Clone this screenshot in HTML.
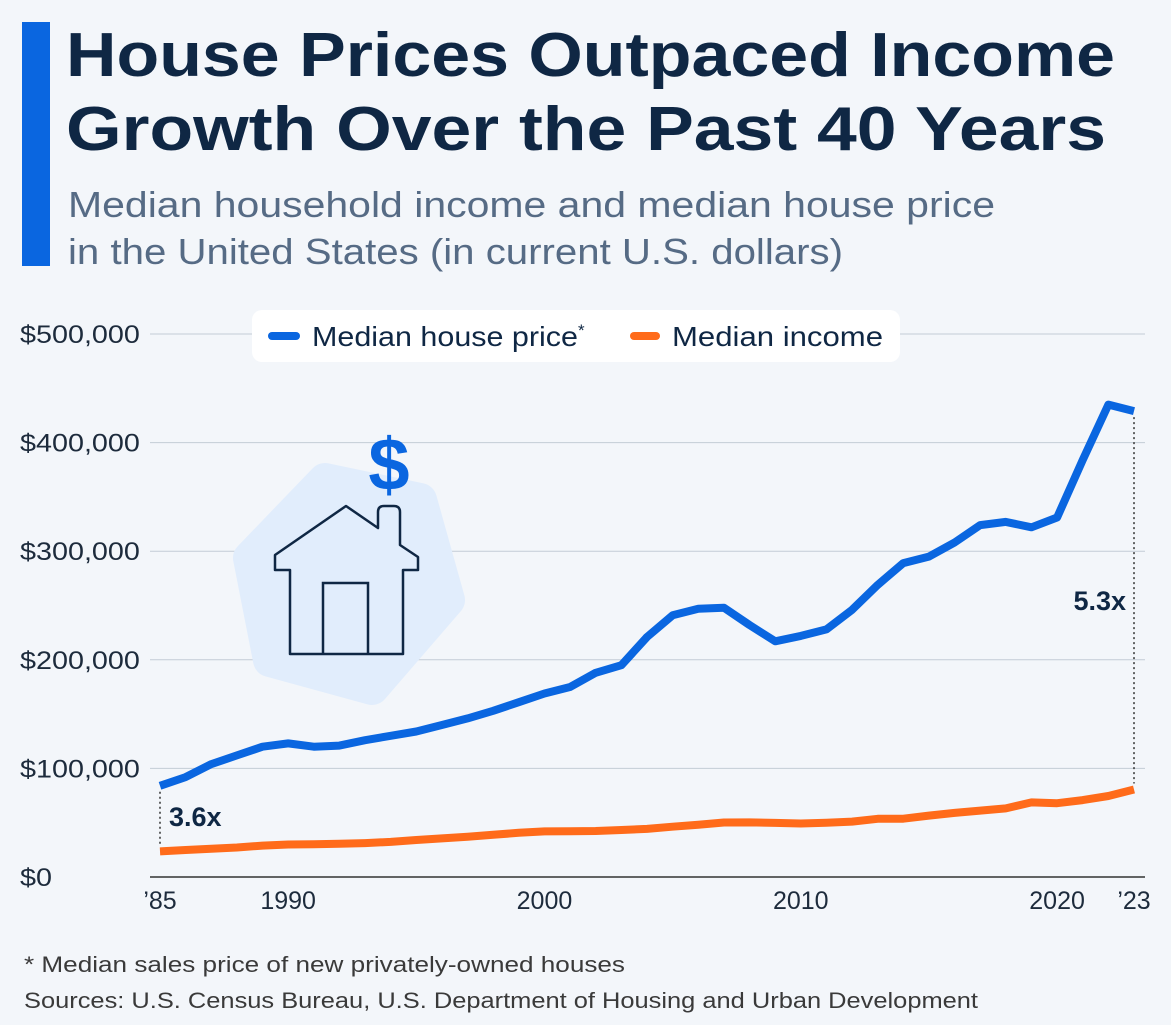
<!DOCTYPE html>
<html><head><meta charset="utf-8"><style>
body{margin:0;background:#f3f6fa;font-family:"Liberation Sans",sans-serif;}
svg{display:block}
</style></head><body>
<svg width="1171" height="1025" viewBox="0 0 1171 1025">
<rect width="1171" height="1025" fill="#f3f6fa"/>
<rect x="22" y="22" width="28" height="244" fill="#0a66e0"/>
<text x="66" y="76" font-size="62" font-weight="bold" fill="#0f2744" textLength="1049" lengthAdjust="spacingAndGlyphs">House Prices Outpaced Income</text>
<text x="66" y="150" font-size="62" font-weight="bold" fill="#0f2744" textLength="1040" lengthAdjust="spacingAndGlyphs">Growth Over the Past 40 Years</text>
<text x="68" y="217" font-size="36" fill="#566b85" textLength="927" lengthAdjust="spacingAndGlyphs">Median household income and median house price</text>
<text x="68" y="264" font-size="36" fill="#566b85" textLength="775" lengthAdjust="spacingAndGlyphs">in the United States (in current U.S. dollars)</text>
<g id="grid"></g>
<g id="yt"></g>
<g id="xt"></g>
<g>
<path d="M325 480 L420 500 L448 600 L372 688 L270 660 L250 558 Z" fill="#e1edfc" stroke="#e1edfc" stroke-width="34" stroke-linejoin="round"/>
<path d="M275 570 L275 555 L346 506 L378 528 L378 512 Q378 506 384 506 L394 506 Q400 506 400 512 L400 545 L418 557 L418 570 L403 570 L403 654 L290 654 L290 570 Z" fill="none" stroke="#0f2744" stroke-width="2.5" stroke-linejoin="round"/>
<path d="M323 654 L323 583 L368 583 L368 654" fill="none" stroke="#0f2744" stroke-width="2.5"/>
<text x="389" y="490" font-size="74" font-weight="bold" fill="#0a66e0" text-anchor="middle">$</text>
</g>
<g id="series"></g>
<g>
<rect x="252" y="310" width="648" height="52" rx="10" fill="#fff"/>
<line x1="272" y1="336" x2="296" y2="336" stroke="#0a66e0" stroke-width="8" stroke-linecap="round"/>
<text x="312" y="346" font-size="28" fill="#0f2744"><tspan textLength="266" lengthAdjust="spacingAndGlyphs">Median house price</tspan><tspan font-size="17" dy="-10">*</tspan></text>
<line x1="634" y1="336" x2="656" y2="336" stroke="#ff6b1a" stroke-width="8" stroke-linecap="round"/>
<text x="672" y="346" font-size="28" fill="#0f2744" textLength="211" lengthAdjust="spacingAndGlyphs">Median income</text>
</g>
<text x="24" y="972" font-size="22" fill="#3a3a3a" textLength="601" lengthAdjust="spacingAndGlyphs">* Median sales price of new privately-owned houses</text>
<text x="24" y="1008" font-size="22" fill="#3a3a3a" textLength="954" lengthAdjust="spacingAndGlyphs">Sources: U.S. Census Bureau, U.S. Department of Housing and Urban Development</text>
</svg>
<script>
const years=[1985,1986,1987,1988,1989,1990,1991,1992,1993,1994,1995,1996,1997,1998,1999,2000,2001,2002,2003,2004,2005,2006,2007,2008,2009,2010,2011,2012,2013,2014,2015,2016,2017,2018,2019,2020,2021,2022,2023];
const housePrice=[84000,92000,104000,112000,120000,123000,120000,121000,126000,130000,134000,140000,146000,153000,161000,169000,175000,188000,195000,221000,241000,247000,248000,232000,217000,222000,228000,246000,269000,289000,295000,308000,324000,327000,322000,331000,384000,435000,429000];
const income=[23600,24900,26000,27200,28900,29900,30100,30600,31200,32300,34100,35500,37000,38900,40700,42000,42200,42400,43300,44300,46300,48200,50200,50300,49800,49300,50000,51000,53600,53700,56500,59000,61100,63200,68700,68000,70800,74600,80600];
const yTicks=[0,100000,200000,300000,400000,500000];
const yTickLabels=["$0","$100,000","$200,000","$300,000","$400,000","$500,000"];
const xTicks=[1985,1990,2000,2010,2020,2023];
const xTickLabels=["’85","1990","2000","2010","2020","’23"];
const NS="http://www.w3.org/2000/svg";
const x=v=>160+(v-1985)*(1134-160)/38;
const y=v=>877-v*(877-334)/500000;
function mk(t,a,p){const e=document.createElementNS(NS,t);for(const k in a)e.setAttribute(k,a[k]);p.appendChild(e);return e;}
const grid=document.getElementById('grid'),yt=document.getElementById('yt'),xt=document.getElementById('xt'),S=document.getElementById('series');
yTicks.forEach((v,i)=>{
 const l=mk('line',{x1:150,x2:1145,y1:y(v),y2:y(v),stroke:v===0?'#333':'#c3ccd6','stroke-width':v===0?1.5:1},grid);
 
 
 const t=mk('text',{x:20,y:y(v)+9,'font-size':25,fill:'#1d2b3c'},yt);t.textContent=yTickLabels[i];
 
 
 const w=t.getComputedTextLength();
 t.setAttribute('textLength',(w*1.15).toFixed(1));
 t.setAttribute('lengthAdjust','spacingAndGlyphs');
});
xTicks.forEach((v,i)=>{
 const t=mk('text',{x:x(v),y:909,'font-size':25,fill:'#1d2b3c','text-anchor':'middle'},xt);t.textContent=xTickLabels[i];
 
 
});
function line(vals,color,name){
 const d=vals.map((v,i)=>(i?'L':'M')+x(years[i]).toFixed(1)+' '+y(v).toFixed(1)).join(' ');
 const p=mk('path',{d:d,fill:'none',stroke:color,'stroke-width':8,'stroke-linejoin':'round','stroke-linecap':'butt'},S);
 
 
}
line(income,'#ff6b1a','income-line');
line(housePrice,'#0a66e0','house-price-line');
const n=years.length-1;
const d1=mk('line',{x1:x(years[0]),x2:x(years[0]),y1:y(housePrice[0])+6,y2:y(income[0])-6,stroke:'#333','stroke-width':1.5,'stroke-dasharray':'2 3'},S);


const d2=mk('line',{x1:x(years[n]),x2:x(years[n]),y1:y(housePrice[n])+6,y2:y(income[n])-6,stroke:'#333','stroke-width':1.5,'stroke-dasharray':'2 3'},S);


const a1=mk('text',{x:x(years[0])+9,y:826,'font-size':27,'font-weight':'bold',fill:'#0f2744'},S);a1.textContent=(housePrice[0]/income[0]).toFixed(1)+'x';


const a2=mk('text',{x:x(years[n])-8,y:610,'font-size':27,'font-weight':'bold',fill:'#0f2744','text-anchor':'end'},S);a2.textContent=(housePrice[n]/income[n]).toFixed(1)+'x';


</script>
</body></html>
